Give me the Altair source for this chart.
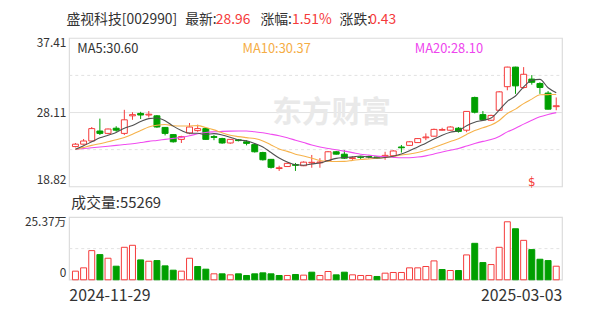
import altair as alt
import pandas as pd

# ---------------- data ----------------
dates = [
    "2024-11-29",
    "2024-12-02", "2024-12-03", "2024-12-04", "2024-12-05", "2024-12-06",
    "2024-12-09", "2024-12-10", "2024-12-11", "2024-12-12", "2024-12-13",
    "2024-12-16", "2024-12-17", "2024-12-18", "2024-12-19", "2024-12-20",
    "2024-12-23", "2024-12-24", "2024-12-25", "2024-12-26", "2024-12-27",
    "2024-12-30", "2024-12-31",
    "2025-01-02", "2025-01-03", "2025-01-06", "2025-01-07", "2025-01-08",
    "2025-01-09", "2025-01-10", "2025-01-13", "2025-01-14", "2025-01-15",
    "2025-01-16", "2025-01-17", "2025-01-20", "2025-01-21", "2025-01-22",
    "2025-01-23", "2025-01-24", "2025-01-27",
    "2025-02-05", "2025-02-06", "2025-02-07", "2025-02-10", "2025-02-11",
    "2025-02-12", "2025-02-13", "2025-02-14", "2025-02-17", "2025-02-18",
    "2025-02-19", "2025-02-20", "2025-02-21", "2025-02-24", "2025-02-25",
    "2025-02-26", "2025-02-27", "2025-02-28",
    "2025-03-03",
]
opens = [23.85, 24.15, 24.55, 25.80, 25.50, 26.15, 25.50, 27.70, 28.00, 27.80,
         27.70, 26.25, 25.35, 24.75, 25.55, 25.85, 26.10, 25.10, 24.85, 24.30,
         24.70, 24.45, 24.10, 23.10, 22.25, 21.10, 21.35, 21.60, 21.45, 21.80,
         21.82, 22.10, 23.20, 22.90, 22.35, 22.55, 22.60, 22.55, 22.60, 22.70,
         23.80, 24.00, 24.35, 24.95, 25.15, 25.90, 25.90, 26.15, 25.90, 30.00,
         27.85, 27.15, 28.40, 31.35, 33.80, 31.25, 32.30, 31.75, 30.55, 28.85]
highs = [24.30, 24.80, 26.30, 27.35, 26.10, 26.40, 28.45, 28.15, 28.20, 28.30,
         27.80, 26.30, 25.40, 25.20, 26.80, 26.60, 26.20, 25.30, 24.95, 24.80,
         24.80, 24.65, 24.20, 23.20, 22.30, 21.45, 21.85, 21.80, 22.00, 22.80,
         22.40, 23.30, 23.30, 23.40, 22.60, 22.65, 22.70, 22.65, 23.20, 23.40,
         24.05, 24.50, 24.90, 25.50, 26.10, 26.20, 26.40, 26.30, 28.30, 30.10,
         28.30, 27.85, 30.80, 33.85, 33.85, 33.80, 32.80, 31.90, 30.80, 30.00]
lows = [23.75, 24.10, 24.50, 25.30, 25.40, 25.70, 25.30, 27.20, 27.30, 27.50,
        26.20, 25.25, 24.35, 24.30, 25.40, 25.70, 24.70, 24.65, 24.20, 24.20,
        24.50, 24.00, 23.10, 22.10, 21.10, 20.80, 21.30, 20.80, 21.40, 21.20,
        21.20, 22.00, 22.85, 22.30, 22.20, 22.30, 22.35, 22.30, 22.20, 22.60,
        23.10, 23.95, 24.30, 24.65, 25.10, 25.85, 25.85, 25.60, 25.65, 28.00,
        27.10, 27.05, 28.30, 30.90, 30.45, 31.10, 31.60, 30.45, 28.50, 28.40]
closes = [24.15, 24.55, 26.10, 25.50, 26.05, 25.90, 27.20, 27.85, 27.80, 27.90,
          26.30, 25.50, 24.45, 25.10, 26.30, 26.10, 24.75, 25.00, 24.30, 24.75,
          24.60, 24.25, 23.20, 22.20, 21.25, 21.20, 21.75, 21.50, 21.90, 21.88,
          21.92, 23.20, 22.90, 22.40, 22.45, 22.50, 22.55, 22.45, 22.75, 23.30,
          23.70, 24.45, 24.85, 25.05, 26.00, 25.98, 26.30, 25.75, 28.25, 28.15,
          27.20, 27.75, 30.70, 33.80, 31.45, 32.90, 31.90, 31.25, 28.53, 28.96]
ma5 = [23.50, 23.95, 24.45, 24.95, 25.27, 25.62, 26.15, 26.50, 26.98, 27.35,
       27.43, 27.09, 26.41, 25.85, 25.51, 25.51, 25.36, 25.47, 25.31, 25.02,
       24.68, 24.58, 24.22, 23.80, 23.10, 22.42, 21.92, 21.58, 21.52, 21.67,
       21.80, 22.09, 22.37, 22.47, 22.56, 22.67, 22.51, 22.41, 22.48, 22.65,
       22.91, 23.32, 23.81, 24.27, 24.81, 25.28, 25.65, 25.83, 26.47, 26.90,
       27.13, 27.42, 28.41, 29.52, 30.18, 31.32, 32.15, 32.26, 31.21, 30.60]
ma10 = [23.50, 23.75, 24.00, 24.20, 24.45, 24.70, 25.00, 25.40, 25.85, 26.31,
        26.53, 26.62, 26.46, 26.42, 26.43, 26.47, 26.23, 25.94, 25.58, 25.27,
        25.10, 24.97, 24.85, 24.56, 24.06, 23.55, 23.25, 22.90, 22.66, 22.39,
        22.11, 22.01, 21.98, 22.00, 22.12, 22.24, 22.30, 22.39, 22.48, 22.61,
        22.79, 22.92, 23.11, 23.38, 23.73, 24.10, 24.49, 24.82, 25.37, 25.86,
        26.21, 26.54, 27.12, 28.00, 28.54, 29.23, 29.79, 30.34, 30.36, 30.37]
ma20 = [23.50, 23.60, 23.70, 23.80, 23.90, 24.00, 24.10, 24.20, 24.35, 24.50,
        24.62, 24.75, 24.88, 25.00, 25.20, 25.45, 25.62, 25.70, 25.75, 25.79,
        25.81, 25.80, 25.70, 25.58, 25.40, 25.20, 24.95, 24.65, 24.35, 24.05,
        23.80, 23.60, 23.45, 23.28, 23.09, 22.89, 22.78, 22.65, 22.57, 22.50,
        22.45, 22.46, 22.54, 22.69, 22.92, 23.17, 23.39, 23.61, 23.92, 24.23,
        24.50, 24.73, 25.12, 25.69, 26.14, 26.66, 27.14, 27.58, 27.87, 28.10]
volumes = [35100, 48600, 118700, 102500, 87700, 55300, 132200, 140300, 80900, 75500,
           78200, 56700, 39100, 35100, 87700, 54000, 43200, 24300, 24300, 20200,
           24300, 17500, 24300, 28300, 24300, 17500, 17500, 21600, 18900, 31000,
           17500, 33700, 20200, 31000, 20200, 17500, 17500, 13500, 27000, 29700,
           29700, 48600, 48600, 54000, 76900, 41800, 37800, 37800, 101200, 148400,
           70100, 62000, 132200, 236000, 207700, 160500, 122800, 83600, 78200, 55269]
vol_up = [1, 1, 1, 0, 1, 0, 1, 1, 0, 1, 0, 0, 0, 1, 1, 0, 0, 1, 0, 1,
          0, 0, 0, 0, 0, 0, 1, 0, 1, 0, 1, 1, 0, 0, 1, 1, 1, 0, 1, 1,
          1, 1, 1, 1, 1, 0, 1, 0, 1, 0, 0, 1, 1, 1, 0, 1, 0, 0, 0, 1]

price_ticks = [37.41, 28.11, 18.82]
price_grid_dashed = [32.76, 23.47]
vol_max = 253700
vol_tick_labels = ["25.37万", "0"]

# ---------------- styling ----------------
W, H = 498, 244
PRICE_H = 150
VOL_TOP_PX = 181
RED = "#f53a3a"
GREEN = "#009f00"
GRID = "#e2e2e2"
FRAME = "#dcdcdc"
TXT = "#333333"
FONT = "Noto Sans CJK SC"

df = pd.DataFrame({
    "date": dates, "open": opens, "high": highs, "low": lows, "close": closes,
    "ma5": ma5, "ma10": ma10, "ma20": ma20, "vol": volumes,
})
df["dir"] = ["up" if c >= o else "down" for o, c in zip(opens, closes)]
df["vdir"] = ["up" if u else "down" for u in vol_up]

xs = alt.Scale(paddingInner=0.27, paddingOuter=0.38)
def X():
    return alt.X("date:O", sort=dates, axis=None, scale=xs)

py = alt.Scale(domain=[price_ticks[2], price_ticks[0]], range=[PRICE_H, 0], zero=False, nice=False)
vy = alt.Scale(domain=[0, vol_max], range=[H, VOL_TOP_PX], zero=False, nice=False)
fill_s = alt.Scale(domain=["up", "down"], range=["white", GREEN])
stroke_s = alt.Scale(domain=["up", "down"], range=[RED, GREEN])

one = pd.DataFrame({"k": [0]})

def txt(text, x, y, color=TXT, size=14, align="left", baseline="middle", weight="normal"):
    return alt.Chart(one).mark_text(
        text=text, align=align, baseline=baseline, fontSize=size, color=color,
        font=FONT, fontWeight=weight,
    ).encode(x=alt.value(x), y=alt.value(y))

# ---------- price panel ----------
pframe = alt.Chart(pd.DataFrame({"top": [price_ticks[0]], "bottom": [price_ticks[2]]})).mark_rect(
    fillOpacity=0, stroke=FRAME, strokeWidth=1.2
).encode(x=alt.value(0), x2=alt.value(W),
         y=alt.Y("top:Q", scale=py, axis=None), y2="bottom:Q")

pgrid_d = alt.Chart(pd.DataFrame({"v": price_grid_dashed})).mark_rule(
    stroke=GRID, strokeDash=[3, 3], strokeWidth=1
).encode(y=alt.Y("v:Q", scale=py, axis=None), x=alt.value(0), x2=alt.value(W))
pgrid_s = alt.Chart(pd.DataFrame({"v": [price_ticks[1]]})).mark_rule(
    stroke=GRID, strokeWidth=1
).encode(y=alt.Y("v:Q", scale=py, axis=None), x=alt.value(0), x2=alt.value(W))

watermark = txt("东方财富", 265, 76, color="#e9e9e9", size=30, align="center", weight="bold")

wicks = alt.Chart(df).mark_rule(strokeWidth=1).encode(
    x=X(), y=alt.Y("low:Q", scale=py, axis=None), y2="high:Q",
    stroke=alt.Stroke("dir:N", scale=stroke_s, legend=None))
bodies = alt.Chart(df).mark_bar(strokeWidth=1).encode(
    x=X(), y=alt.Y("open:Q", scale=py, axis=None), y2="close:Q",
    fill=alt.Fill("dir:N", scale=fill_s, legend=None),
    stroke=alt.Stroke("dir:N", scale=stroke_s, legend=None))

def ma_line(field, color):
    return alt.Chart(df).mark_line(stroke=color, strokeWidth=1.1, interpolate="monotone").encode(
        x=X(), y=alt.Y(f"{field}:Q", scale=py, axis=None))

l5 = ma_line("ma5", "#505050")
l10 = ma_line("ma10", "#f6b24a")
l20 = ma_line("ma20", "#f04cf0")

ptick_df = pd.DataFrame({"v": price_ticks, "t": [f"{v:.2f}" for v in price_ticks]})
def ptick(i, baseline):
    return alt.Chart(ptick_df.iloc[[i]]).mark_text(
        align="right", baseline=baseline, fontSize=12, color=TXT, font=FONT
    ).encode(x=alt.value(-3), y=alt.Y("v:Q", scale=py, axis=None), text="t:N")

marker = alt.Chart(pd.DataFrame({"date": [dates[56]]})).mark_text(
    text="$", fontSize=12, color=RED, font="DejaVu Sans", baseline="middle"
).encode(x=X(), y=alt.value(145))

price = alt.layer(
    pframe, pgrid_d, pgrid_s, watermark, wicks, bodies, l20, l10, l5,
    ptick(0, "top"), ptick(1, "middle"), ptick(2, "bottom"), marker,
    txt("MA5:30.60", 8, 11, color=TXT, size=13),
    txt("MA10:30.37", 175, 11, color="#f5ad45", size=13),
    txt("MA20:28.10", 349, 11, color="#ee44ee", size=13),
)

# ---------- volume panel ----------
vframe = alt.Chart(pd.DataFrame({"top": [vol_max], "bottom": [0]})).mark_rect(
    fillOpacity=0, stroke=FRAME, strokeWidth=1.2
).encode(x=alt.value(0), x2=alt.value(W),
         y=alt.Y("top:Q", scale=vy, axis=None), y2="bottom:Q")
vgrid = alt.Chart(pd.DataFrame({"v": [vol_max / 2]})).mark_rule(
    stroke=GRID, strokeDash=[3, 3], strokeWidth=1
).encode(y=alt.Y("v:Q", scale=vy, axis=None), x=alt.value(0), x2=alt.value(W))
vbars = alt.Chart(df).mark_bar(strokeWidth=1).encode(
    x=X(), y=alt.Y("vol:Q", scale=vy, axis=None),
    fill=alt.Fill("vdir:N", scale=fill_s, legend=None),
    stroke=alt.Stroke("vdir:N", scale=stroke_s, legend=None))
vt_df = pd.DataFrame({"v": [vol_max, 0], "t": vol_tick_labels})
def vtick(i, baseline):
    return alt.Chart(vt_df.iloc[[i]]).mark_text(
        align="right", baseline=baseline, fontSize=12, color=TXT, font=FONT
    ).encode(x=alt.value(-3), y=alt.Y("v:Q", scale=vy, axis=None), text="t:N")

volume = alt.layer(vframe, vgrid, vbars, vtick(0, "top"), vtick(1, "bottom"))

# ---------- header / footer texts ----------
texts = alt.layer(
    txt("盛视科技[002990]", -3, -18),
    txt("最新:", 117, -18), txt("28.96", 148, -18, color=RED),
    txt("涨幅:", 193, -18), txt("1.51%", 225, -18, color=RED),
    txt("涨跌:", 273, -18), txt("0.43", 303, -18, color=RED),
    txt("成交量:55269", 2, 166, size=15),
    txt(dates[0], 0, 260, size=16),
    txt(dates[-1], W, 260, size=16, align="right"),
)

chart = alt.layer(price, volume, texts).resolve_scale(y="independent").properties(
    width=W, height=H,
    autosize=alt.AutoSizeParams(type="none"),
    padding={"left": 62, "top": 29, "right": 30, "bottom": 36},
).configure_view(stroke=None)

chart.save("out.html", embed_options={"renderer": "svg", "actions": False})
